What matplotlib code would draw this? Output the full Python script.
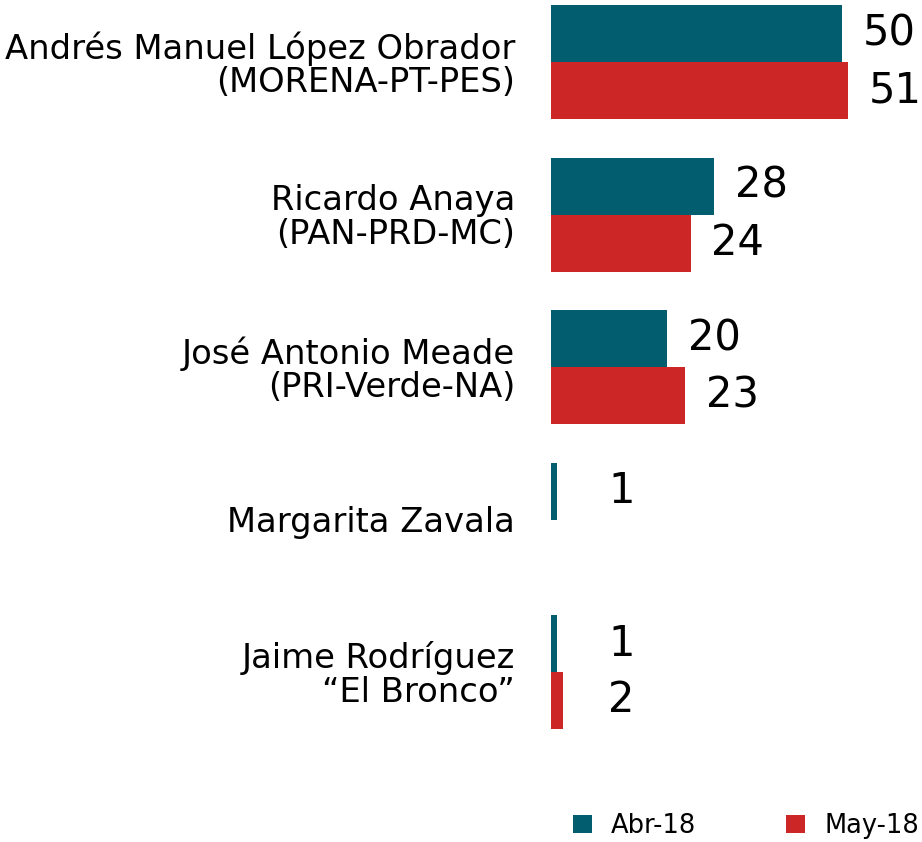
import numpy as np
import matplotlib
matplotlib.use("Agg")
import matplotlib.pyplot as plt
from matplotlib.patches import Patch

categories = ["Andrés Manuel López Obrador\n(MORENA-PT-PES)",
              "Ricardo Anaya\n(PAN-PRD-MC)",
              "José Antonio Meade\n(PRI-Verde-NA)",
              "Margarita Zavala",
              "Jaime Rodríguez\n“El Bronco”"]
abr_18 = [50, 28, 20, 1, 1]
may_18 = [51, 24, 23, np.nan, 2]
series_names = ["Abr-18", "May-18"]
colors = ["#025E6E", "#CC2626"]

W, H = 922, 842
fig = plt.figure(figsize=(W / 100, H / 100), dpi=100)
plt.rcParams['font.family'] = ['DejaVu Sans']

ax_left_px, ax_right_px = 551, 922
ax_top_px, ax_bot_px = 0, 780
ax = fig.add_axes([ax_left_px / W, 1 - ax_bot_px / H,
                   (ax_right_px - ax_left_px) / W, (ax_bot_px - ax_top_px) / H])

spacing_px = 152.5
first_center_px = 62
ylim_top = (ax_top_px - first_center_px) / spacing_px
ylim_bot = (ax_bot_px - first_center_px) / spacing_px
ax.set_ylim(ylim_bot, ylim_top)
px_per_unit = 5.82
ax.set_xlim(0, (ax_right_px - ax_left_px) / px_per_unit)

h = 57 / spacing_px
y = np.arange(len(categories))
a = np.array(abr_18, dtype=float)
m = np.array(may_18, dtype=float)
ax.barh(y - h / 2, a, height=h, color=colors[0])
mm = ~np.isnan(m)
ax.barh(y[mm] + h / 2, m[mm], height=h, color=colors[1])

for vals, off in ((a, -h / 2), (m, h / 2)):
    for yi, v in zip(y, vals):
        if np.isnan(v):
            continue
        ax.annotate(f"{int(v)}", xy=(max(v, 4), yi + off), xytext=(34, 0),
                    textcoords="offset points", ha="center", va="center",
                    fontsize=30, color="black")

for yi, lab in zip(y, categories):
    ax.text(-36 / px_per_unit, yi + 0.02, lab, ha="right", va="center",
            fontsize=24.3, color="black", linespacing=1.02)

ax.axis("off")

handles = [Patch(facecolor=c, edgecolor="none") for c in colors]
fig.legend(handles, series_names, loc="center", bbox_to_anchor=(746 / W, 1 - 826 / H),
           ncol=2, frameon=False, fontsize=18.5, handlelength=0.74, handleheight=0.74,
           handletextpad=0.74, columnspacing=3.5, borderpad=0)

fig.savefig("out.png", dpi=100, facecolor="white")
